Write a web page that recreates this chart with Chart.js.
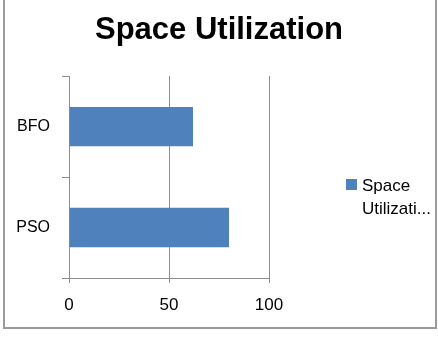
<!DOCTYPE html>
<html>
<head>
<meta charset="utf-8">
<script src="https://cdn.jsdelivr.net/npm/chart.js@4"></script>
<style>
  body { margin: 0; background: #fff; }
  #wrap { position: absolute; left: 0; top: 0; width: 438px; height: 352px; }
</style>
</head>
<body>
<div id="wrap"><canvas id="myChart" width="438" height="352"></canvas></div>
<script>
var categorias = ['BFO', 'PSO'];
var valores = [62, 80];
var nombreSerie = 'Space Utilization';
var titulo = 'Space Utilization';
var ticksX = [0, 50, 100];

var azul = '#4F81BD';
var gris = '#8e8e8e';
var fuente = "'Liberation Sans', Arial, sans-serif";

// marco gris y leyenda a la derecha (texto en dos lineas, cortado)
var extras = {
    id: 'extras',
    afterDraw: function(chart) {
        var ctx = chart.ctx;
        ctx.save();
        ctx.strokeStyle = '#9b9b9b';
        ctx.lineWidth = 2;
        ctx.beginPath();
        ctx.moveTo(4, -2);
        ctx.lineTo(4, 328);
        ctx.lineTo(436, 328);
        ctx.lineTo(436, -2);
        ctx.stroke();

        var ds = chart.data.datasets[0];
        ctx.fillStyle = ds.backgroundColor;
        ctx.fillRect(346, 179, 11, 11);
        ctx.fillStyle = '#000';
        ctx.font = '17px ' + fuente;
        ctx.textBaseline = 'alphabetic';
        ctx.textAlign = 'left';
        var tx = 362;
        var maxW = 71;
        var palabras = ds.label.split(' ');
        for (var i = 0; i < palabras.length; i++) {
            var t = palabras[i];
            if (ctx.measureText(t).width > maxW) {
                while (t.length > 1 && ctx.measureText(t + '...').width > maxW) {
                    t = t.slice(0, -1);
                }
                t = t + '...';
            }
            ctx.fillText(t, tx, 191 + i * 23);
        }
        ctx.restore();
    }
};

var ctx = document.getElementById('myChart').getContext('2d');
var myChart = new Chart(ctx, {
    type: 'bar',
    data: {
        labels: categorias,
        datasets: [{
            label: nombreSerie,
            data: valores,
            backgroundColor: azul,
            borderWidth: 0,
            categoryPercentage: 1,
            barPercentage: 0.39
        }]
    },
    options: {
        indexAxis: 'y',
        responsive: false,
        animation: false,
        layout: { padding: 0 },
        plugins: {
            legend: { display: false },
            tooltip: { enabled: false },
            title: {
                display: true,
                text: titulo,
                color: '#000',
                font: { family: fuente, size: 31, weight: 'bold', lineHeight: 1.2 },
                padding: { top: 12, bottom: 27 }
            }
        },
        scales: {
            x: {
                min: 0,
                max: 100,
                afterFit: function(s) { s.height = 74; },
                afterBuildTicks: function(s) {
                    s.ticks = ticksX.map(function(v) { return { value: v }; });
                },
                grid: { color: gris, lineWidth: 1, tickLength: 5, drawTicks: true },
                border: { display: true, color: gris, width: 1 },
                ticks: { color: '#000', padding: 12, font: { family: fuente, size: 17 } }
            },
            y: {
                afterFit: function(s) { s.width = 69; },
                grid: { drawOnChartArea: false, color: gris, tickLength: 7, offset: true },
                border: { display: true, color: gris, width: 1 },
                ticks: { color: '#000', padding: 12, font: { family: fuente, size: 16 } }
            },
            // eje vacio a la derecha: reserva el hueco de la leyenda
            hueco: {
                type: 'linear',
                position: 'right',
                display: true,
                afterFit: function(s) { s.width = 169; },
                grid: { display: false },
                border: { display: false },
                ticks: { display: false }
            }
        }
    },
    plugins: [extras]
});
</script>
</body>
</html>
